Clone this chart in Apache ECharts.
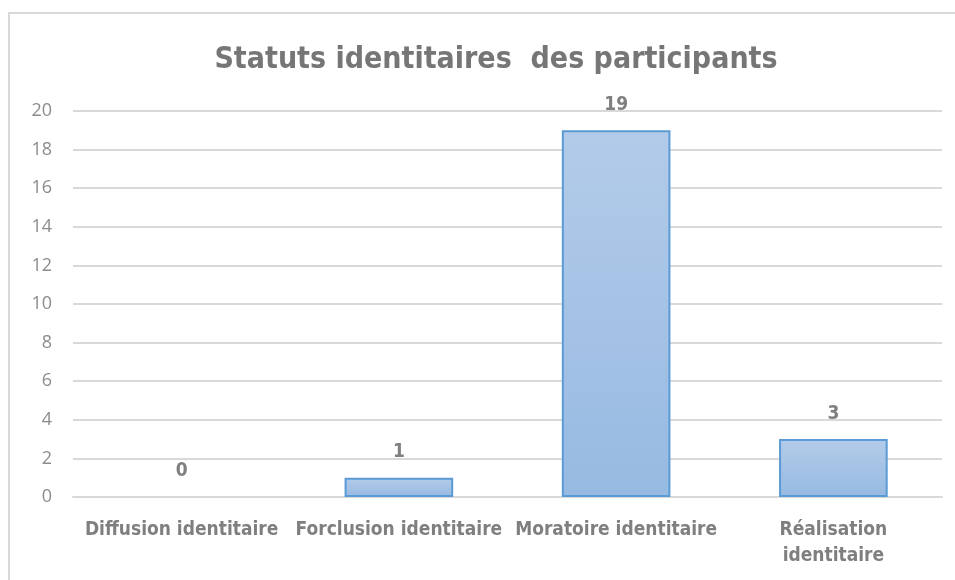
<!DOCTYPE html>
<html>
<head>
<meta charset="utf-8">
<script src="https://cdn.jsdelivr.net/npm/echarts@6/dist/echarts.min.js"></script>
<style>html,body{margin:0;padding:0;background:#fff;}#c{width:955px;height:580px;}</style>
</head>
<body>
<div id="c"></div>
<script>
const titleText = 'Statuts identitaires  des participants';
const categories = ['Diffusion identitaire', 'Forclusion identitaire', 'Moratoire identitaire', 'Réalisation\nidentitaire'];
const values = [0, 1, 19, 3];
const yTicks = [0, 2, 4, 6, 8, 10, 12, 14, 16, 18, 20];

const FONT = '"Liberation Sans Narrow", "DejaVu Sans Condensed", sans-serif';
const chart = echarts.init(document.getElementById('c'), null, {renderer: 'canvas'});
chart.setOption({
  animation: false,
  backgroundColor: '#ffffff',
  title: {
    text: titleText,
    left: 491, top: 40, textAlign: 'center',
    textStyle: {fontFamily: FONT, fontSize: 30, fontWeight: 'bold', color: '#767676'}
  },
  graphic: [{
    type: 'polyline',
    shape: {points: [[9, 580], [9, 13], [955, 13]]},
    style: {stroke: '#d9d9d9', lineWidth: 2, fill: null},
    silent: true
  }],
  grid: {left: 73, right: 13, top: 111, bottom: 83, containLabel: false},
  xAxis: {
    type: 'category',
    data: categories,
    axisLine: {show: true, lineStyle: {color: '#d9d9d9', width: 2}},
    axisTick: {show: false},
    axisLabel: {
      interval: 0, margin: 20, lineHeight: 26,
      fontFamily: FONT, fontSize: 19, fontWeight: 'bold', color: '#7f7f7f'
    }
  },
  yAxis: {
    type: 'value',
    min: yTicks[0], max: yTicks[yTicks.length - 1], interval: 2,
    axisLine: {show: false},
    axisTick: {show: false},
    splitLine: {lineStyle: {color: '#d9d9d9', width: 2}},
    axisLabel: {margin: 21, fontFamily: '"Open Sans", sans-serif', fontSize: 18, color: '#8c8c8c'}
  },
  series: [{
    type: 'bar',
    data: values.map(v => ({value: v, itemStyle: v === 0 ? {borderWidth: 0} : {}})),
    barWidth: '50%',
    itemStyle: {
      color: new echarts.graphic.LinearGradient(0, 0, 0, 1, [
        {offset: 0, color: '#b3cbe9'},
        {offset: 1, color: '#97bae2'}
      ]),
      borderColor: '#5b9bd5',
      borderWidth: 2
    },
    label: {
      show: true, position: 'top', distance: 16,
      fontFamily: FONT, fontSize: 19, fontWeight: 'bold', color: '#7f7f7f'
    }
  }]
});
</script>
</body>
</html>
